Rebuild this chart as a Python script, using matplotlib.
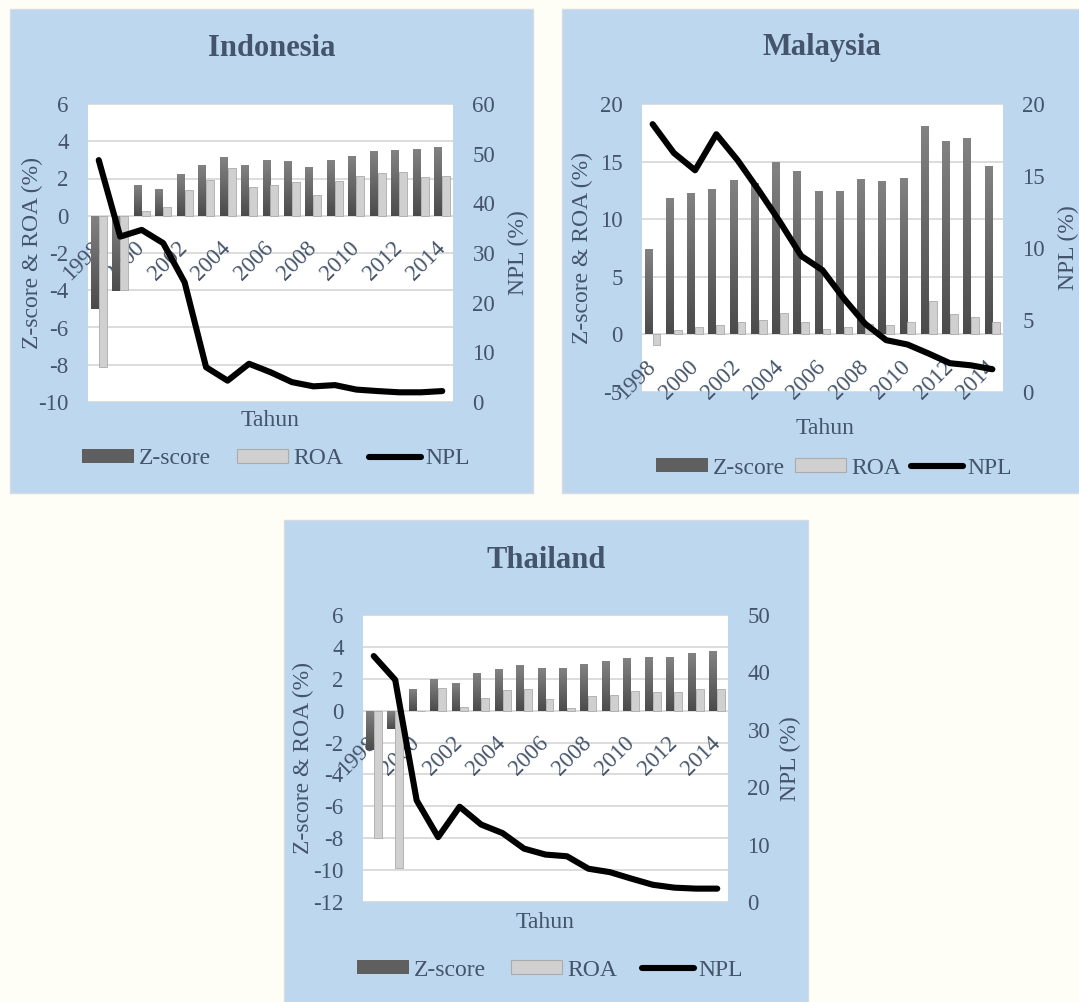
import numpy as np
import matplotlib
matplotlib.use('Agg')
from matplotlib import pyplot as plt
from matplotlib.patches import Rectangle, Patch
from matplotlib.lines import Line2D
from matplotlib.colors import LinearSegmentedColormap

tahun = list(range(1998, 2015))
tick_labels = [str(t) for t in tahun[::2]]

# Indonesia
idn_z = [-5.0, -4.05, 1.64, 1.43, 2.23, 2.72, 3.15, 2.72, 3.0, 2.93, 2.61, 2.99, 3.2, 3.47, 3.52, 3.58, 3.68]
idn_roa = [-8.13, -3.99, 0.23, 0.45, 1.38, 1.93, 2.54, 1.57, 1.66, 1.81, 1.14, 1.89, 2.16, 2.29, 2.34, 2.09, 2.11]
idn_npl = [48.7, 33.3, 34.65, 32.0, 24.1, 7.0, 4.3, 7.7, 6.0, 4.0, 3.15, 3.4, 2.5, 2.2, 1.95, 1.95, 2.2]

# Malaysia
mys_z = [7.39, 11.85, 12.28, 12.63, 13.41, 13.15, 14.98, 14.19, 12.46, 12.46, 13.5, 13.33, 13.59, 18.1, 16.8, 17.06, 14.63]
mys_roa = [-0.96, 0.41, 0.61, 0.84, 1.07, 1.22, 1.88, 1.1, 0.46, 0.64, 0.9, 0.84, 1.07, 2.93, 1.74, 1.51, 1.04]
mys_npl = [18.6, 16.6, 15.4, 17.9, 16.1, 14.0, 11.8, 9.45, 8.46, 6.5, 4.75, 3.6, 3.3, 2.67, 2.0, 1.85, 1.58]

# Thailand
tha_z = [-2.47, -1.17, 1.36, 1.99, 1.74, 2.37, 2.62, 2.87, 2.68, 2.68, 2.93, 3.12, 3.31, 3.37, 3.37, 3.62, 3.75]
tha_roa = [-7.97, -9.88, -0.05, 1.42, 0.23, 0.77, 1.32, 1.34, 0.75, 0.15, 0.9, 0.98, 1.21, 1.15, 1.17, 1.36, 1.36]
tha_npl = [42.85, 38.7, 17.7, 11.3, 16.6, 13.5, 12.0, 9.3, 8.26, 7.97, 5.8, 5.2, 4.07, 3.0, 2.5, 2.33, 2.33]

W, H = 1079, 1002
teks = '#44546A'
panel_bg = '#BDD7EE'
warna_z = '#5F5F5F'
warna_roa = '#D0D0D0'
grad_z = LinearSegmentedColormap.from_list('grad_z', ['#4B4B4B', '#828282'])

plt.rcParams['font.family'] = ['Liberation Serif', 'DejaVu Serif']
plt.rcParams['axes.unicode_minus'] = False

fig = plt.figure(figsize=(W / 100, H / 100), dpi=100)
fig.patch.set_facecolor('#FEFDF6')


def fx(x):
    return x / W


def fy(y):
    return 1 - y / H


def panel(nama, box, plot, z, roa, npl, ylim, yticks, y2lim, y2ticks,
          title_xy, ylab_x, y2lab_x, xlab_xy, leg_xy, colsp):
    x0, y0, x1, y1 = box
    fig.patches.append(Rectangle((fx(x0), fy(y1)), fx(x1 - x0), (y1 - y0) / H,
                                 transform=fig.transFigure, facecolor=panel_bg,
                                 edgecolor='#D6DCE4', lw=1, zorder=-5))
    px0, py0, px1, py1 = plot
    ax = fig.add_axes([fx(px0), fy(py1), fx(px1 - px0), (py1 - py0) / H])
    ax.set_facecolor('white')
    x = np.arange(len(tahun))
    w = 0.37

    # garis grid di belakang batang
    ax.hlines(list(yticks), -0.5, len(tahun) - 0.5, color='#D9D9D9', lw=1.3, zorder=1)

    bz = ax.bar(x - w / 2, z, w, color='none', zorder=2)
    gradien = np.linspace(0, 1, 64).reshape(-1, 1)
    for b in bz:
        bx, by = b.get_xy()
        bh = b.get_height()
        im = ax.imshow(gradien, extent=(bx, bx + b.get_width(), min(by, by + bh), max(by, by + bh)),
                       origin='lower', aspect='auto', cmap=grad_z, zorder=2)
        im.set_clip_path(b)
    ax.bar(x + w / 2, roa, w, color=warna_roa, edgecolor='#ABABAB', lw=0.6, zorder=2)

    ax.set_xlim(-0.5, len(tahun) - 0.5)
    ax.set_ylim(*ylim)
    ax.set_yticks(yticks)
    for s in ['left', 'right', 'top']:
        ax.spines[s].set_visible(False)
    ax.spines['bottom'].set_position(('data', 0))
    ax.spines['bottom'].set_visible(False)
    ax.set_xticks(x[::2])
    ax.set_xticklabels(tick_labels)
    ax.tick_params(axis='x', length=0, pad=21, labelsize=16.5, labelcolor=teks)
    ax.tick_params(axis='y', length=0, pad=14, labelsize=16.5, labelcolor=teks)
    plt.setp(ax.get_xticklabels(), rotation=45, ha='right', va='center',
             rotation_mode='anchor')

    ax2 = ax.twinx()
    ax2.plot(x, npl, color='black', lw=4.4, solid_capstyle='round',
             solid_joinstyle='round')
    ax2.set_ylim(*y2lim)
    ax2.set_yticks(y2ticks)
    for s in ax2.spines.values():
        s.set_visible(False)
    ax2.tick_params(axis='y', length=0, pad=14, labelsize=16.5, labelcolor=teks)

    fig.text(fx(title_xy[0]), fy(title_xy[1]), nama, ha='center', va='center',
             fontsize=22, fontweight='bold', color=teks)
    cy = (py0 + py1) / 2
    fig.text(fx(ylab_x), fy(cy), 'Z-score & ROA (%)', rotation=90,
             ha='center', va='center', fontsize=17, color=teks)
    fig.text(fx(y2lab_x), fy(cy), 'NPL (%)', rotation=90,
             ha='center', va='center', fontsize=17, color=teks)
    fig.text(fx(xlab_xy[0]), fy(xlab_xy[1]), 'Tahun', ha='center', va='center',
             fontsize=17, color=teks)

    handles = [Patch(facecolor=warna_z, edgecolor='none'),
               Patch(facecolor=warna_roa, edgecolor='#ABABAB', lw=0.8),
               Line2D([], [], color='black', lw=4.4, solid_capstyle='round')]
    fig.legend(handles, ['Z-score', 'ROA', 'NPL'], loc='center',
               bbox_to_anchor=(fx(leg_xy[0]), fy(leg_xy[1])), ncol=3,
               frameon=False, fontsize=17, labelcolor=teks, handlelength=2.2,
               handleheight=0.5, handletextpad=0.2, columnspacing=colsp,
               borderpad=0, borderaxespad=0)
    return ax


panel('Indonesia', (10, 9, 533, 493), (88, 104, 453, 402),
      idn_z, idn_roa, idn_npl, (-10, 6), range(-10, 7, 2), (0, 60), range(0, 61, 10),
      (272, 48), 32, 518, (270, 421), (276, 459), 1.1)

panel('Malaysia', (562, 9, 1090, 493), (642, 104, 1003, 392),
      mys_z, mys_roa, mys_npl, (-5, 20), range(-5, 21, 5), (0, 20), range(0, 21, 5),
      (822, 48), 582, 1068, (825, 428), (834, 468), 0.42)

panel('Thailand', (284, 520, 808, 1010), (363, 615, 728, 902),
      tha_z, tha_roa, tha_npl, (-12, 6), range(-12, 7, 2), (0, 50), range(0, 51, 10),
      (546, 560), 303, 790, (545, 922), (550, 970), 1.06)

fig.savefig('out.png', dpi=100, facecolor=fig.get_facecolor())
